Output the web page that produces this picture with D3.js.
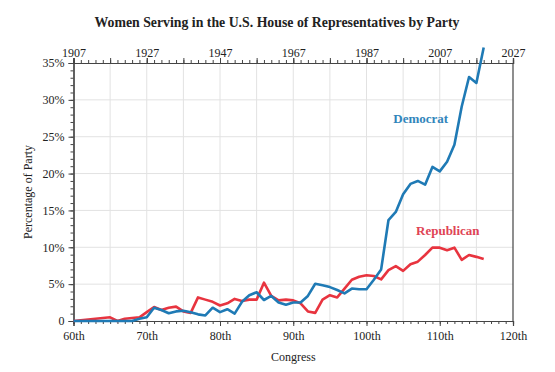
<!DOCTYPE html>
<html><head><meta charset="utf-8">
<script src="https://cdn.jsdelivr.net/npm/d3@7"></script>
<style>
body{margin:0;background:#fff;}
svg text{font-family:"Liberation Serif","Times New Roman",serif !important;fill:#222;}
</style></head>
<body><svg id="c" width="555" height="372"></svg>
<script>
const congresses = d3.range(60, 117);
const democrat = [0,0,0,0,0,0,0,0,0,0.3,0.5,1.8,1.5,1.05,1.3,1.4,1.2,0.9,0.75,1.8,1.2,1.6,1.0,2.6,3.5,3.9,2.85,3.4,2.5,2.2,2.5,2.5,3.4,5.05,4.85,4.6,4.2,3.75,4.4,4.3,4.3,5.6,7.0,13.7,14.8,17.2,18.6,19.0,18.5,20.9,20.3,21.6,23.9,29.1,33.1,32.3,37.1];
const republican = [0,0.1,0.2,0.3,0.4,0.5,0,0.3,0.4,0.5,1.2,1.9,1.5,1.8,1.95,1.3,1.1,3.2,2.9,2.6,2.1,2.4,3.0,2.7,2.9,2.9,5.2,3.4,2.8,2.9,2.8,2.4,1.3,1.1,2.9,3.5,3.2,4.4,5.6,6.0,6.2,6.1,5.65,6.9,7.45,6.8,7.7,8.05,8.95,9.95,9.95,9.6,9.95,8.3,8.95,8.7,8.4];
const bottomTicks = [60,70,80,90,100,110,120];
const topYears = [1907,1927,1947,1967,1987,2007,2027];
const yTicks = [0,5,10,15,20,25,30,35];
const title = "Women Serving in the U.S. House of Representatives by Party";

const svg = d3.select("#c");
const L=73.5, R=513, T=63, B=321;
const x = d3.scaleLinear().domain([60,120]).range([L,R]);
const xTop = d3.scaleLinear().domain([1907,2027]).range([L,R]);
const y = d3.scaleLinear().domain([0,35]).range([B,T]);

// grid
const g = svg.append("g");
g.selectAll("line.vg").data(d3.range(65,120,5)).join("line")
 .attr("x1",d=>x(d)).attr("x2",d=>x(d)).attr("y1",T).attr("y2",B)
 .attr("stroke","#e2e2e2").attr("stroke-width",1);
g.selectAll("line.hg").data(yTicks.filter(d=>d>0&&d<35)).join("line")
 .attr("x1",L).attr("x2",R).attr("y1",d=>y(d)).attr("y2",d=>y(d))
 .attr("stroke","#e2e2e2").attr("stroke-width",1);

const axisColor="#444";
// bottom axis
svg.append("g").attr("transform",`translate(0,${B})`)
 .call(d3.axisBottom(x).tickValues(d3.range(60,121)).tickSize(3).tickFormat(""));
svg.append("g").attr("transform",`translate(0,${B})`)
 .call(d3.axisBottom(x).tickValues(bottomTicks).tickSize(5).tickPadding(5).tickFormat(d=>d+"th"));
// top axis
svg.append("g").attr("transform",`translate(0,${T})`)
 .call(d3.axisTop(xTop).tickValues(d3.range(1907,2028,2)).tickSize(3).tickFormat(""));
svg.append("g").attr("transform",`translate(0,${T})`)
 .call(d3.axisTop(xTop).tickValues(d3.range(1907,2028,10)).tickSize(5).tickFormat(""));
svg.append("g").attr("transform",`translate(0,${T})`)
 .call(d3.axisTop(xTop).tickValues(topYears).tickSize(5).tickPadding(1.5).tickFormat(d=>d));
// left axis
svg.append("g").attr("transform",`translate(${L},0)`)
 .call(d3.axisLeft(y).tickValues(d3.range(0,36,1)).tickSize(3).tickFormat(""));
svg.append("g").attr("transform",`translate(${L},0)`)
 .call(d3.axisLeft(y).tickValues(yTicks).tickSize(5).tickPadding(4).tickFormat(d=>d===0?"0":d+"%"));
// right border
svg.append("line").attr("x1",R).attr("x2",R).attr("y1",T).attr("y2",B).attr("stroke",axisColor).attr("stroke-width",1.2);

svg.selectAll(".domain").attr("stroke",axisColor).attr("stroke-width",1.2);
svg.selectAll(".tick line").attr("stroke",axisColor);
svg.selectAll(".tick text").style("font-size","12px").attr("fill","#222");

// lines
const line = d3.line().x((d,i)=>x(congresses[i])).y(d=>y(d));
svg.append("path").datum(republican).attr("d",line).attr("fill","none")
 .attr("stroke","#e8343f").attr("stroke-width",2.6).attr("stroke-linejoin","round");
svg.append("path").datum(democrat).attr("d",line).attr("fill","none")
 .attr("stroke","#1f7ab5").attr("stroke-width",2.6).attr("stroke-linejoin","round");

// labels
svg.append("text").attr("x",x(107.4)).attr("y",y(26.8)).attr("text-anchor","middle")
 .style("font-size","13px").style("font-weight","bold").style("fill","#3185bb").text("Democrat");
svg.append("text").attr("x",x(111.1)).attr("y",y(11.6)).attr("text-anchor","middle")
 .style("font-size","13px").style("font-weight","bold").style("fill","#e04455").text("Republican");

// title & axis titles
svg.append("text").attr("x",277).attr("y",26.5).attr("text-anchor","middle")
 .style("font-size","13.8px").style("font-weight","bold").text(title);
svg.append("text").attr("x",(L+R)/2).attr("y",361).attr("text-anchor","middle")
 .style("font-size","12px").text("Congress");
svg.append("text").attr("transform",`translate(32,${(T+B)/2}) rotate(-90)`).attr("text-anchor","middle")
 .style("font-size","12px").text("Percentage of Party");
</script></body></html>
